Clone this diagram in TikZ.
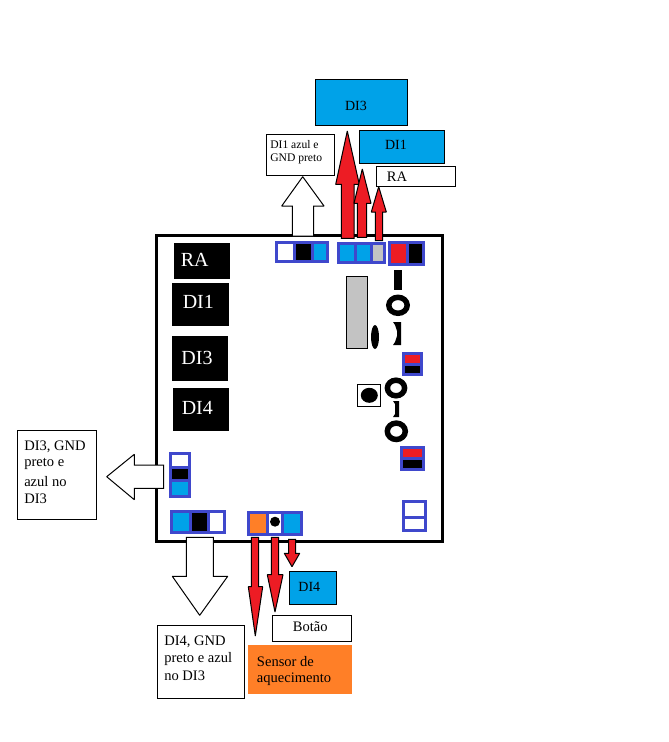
\documentclass[tikz,border=0pt]{standalone}
\usepackage{fontspec}
\setmainfont{Liberation Serif}
\definecolor{frameblue}{RGB}{63,72,204}
\definecolor{cyanfill}{RGB}{0,162,232}
\definecolor{redfill}{RGB}{237,28,36}
\definecolor{orangefill}{RGB}{255,127,39}
\definecolor{grayfill}{RGB}{195,195,195}
\tikzset{
  px/.style={x=0.75pt,y=-0.75pt},
  lbl/.style={inner sep=0pt,font=\fontsize{10.9pt}{12.8pt}\selectfont,text=black},
  lblleft/.style={lbl,anchor=west},
  small/.style={inner sep=0pt,anchor=west,font=\fontsize{8.7pt}{10pt}\selectfont},
  whitelbl/.style={inner sep=0pt,text=white,font=\fontsize{15pt}{18pt}\selectfont},
  outlined/.style={draw=black,line width=0.75pt},
  whitearrow/.style={draw=black,fill=white,line width=0.75pt,line join=miter,miter limit=1.5},
  redarrow/.style={draw=black,fill=redfill,line width=0.75pt,line join=miter,miter limit=1.5},
  ring/.style={draw=black,line width=4.1pt,fill=white},
}
% name, x1, y1, x2, y2, style
\newcommand{\bx}[6]{\node[#6,inner sep=0pt,outer sep=0pt,minimum width={(#4-#2)*0.75pt},minimum height={(#5-#3)*0.75pt}] (#1) at ({(#2+#4)/2},{(#3+#5)/2}) {};}
\newcommand{\cell}[5]{\fill[#5] (#1,#2) rectangle (#3,#4);}
\begin{document}
\begin{tikzpicture}[px]
\useasboundingbox (0,0) rectangle (668,742);
\fill[white] (0,0) rectangle (668,742);

% board
\bx{board}{156.3}{235.3}{442.5}{541.3}{draw=black,line width=2.25pt,fill=white}

% labels on the board
\bx{ra}{174}{243}{230}{279}{fill=black}
\bx{dia}{172}{283}{229}{326}{fill=black}
\bx{dib}{172}{336}{228}{381}{fill=black}
\bx{dic}{173}{388}{229}{431}{fill=black}
\node[whitelbl] (rat) at (194.7,260.3) {RA};
\node[whitelbl] (diat) at (198.3,302) {DI1};
\node[whitelbl] (dibt) at (197,358) {DI3};
\node[whitelbl] (dict) at (197.3,408) {DI4};

% white block arrows
\draw[whitearrow] (292.3,236) -- (292.3,206) -- (281.7,206) -- (302.7,176.7) -- (324,206) -- (313.7,206) -- (313.7,236) -- cycle;
\draw[whitearrow] (163.7,465) -- (134.3,465) -- (134.3,454.3) -- (106.7,476.7) -- (134.3,499.7) -- (134.3,488.3) -- (163.7,488.3) -- cycle;
\draw[whitearrow] (186.3,537.3) -- (186.3,576.3) -- (172.3,576.3) -- (199.7,615.3) -- (227.7,576.3) -- (213.3,576.3) -- (213.3,537.3) -- cycle;

% red arrows up
\draw[redarrow] (341.3,238.3) -- (341.3,184.3) -- (335.7,184.3) -- (347.3,131) -- (359.3,184.3) -- (354,184.3) -- (354,238.3) -- cycle;
\draw[redarrow] (357.3,237.3) -- (357.3,203.3) -- (354,203.3) -- (362.3,169) -- (371,203.3) -- (366.7,203.3) -- (366.7,237.3) -- cycle;
\draw[redarrow] (375.3,240.7) -- (375.3,212) -- (371.3,212) -- (378.7,186.7) -- (386.3,212) -- (382.7,212) -- (382.7,240.7) -- cycle;

% red arrows down
\draw[redarrow] (251.3,537.3) -- (251.3,586.7) -- (248.3,586.7) -- (255.3,636) -- (262.7,586.7) -- (258.7,586.7) -- (258.7,537.3) -- cycle;
\draw[redarrow] (271.3,537.3) -- (271.3,574.7) -- (267.3,574.7) -- (275,612) -- (283,574.7) -- (278.7,574.7) -- (278.7,537.3) -- cycle;
\draw[redarrow] (288.7,539.3) -- (288.7,553.3) -- (284.3,553.3) -- (292,566.7) -- (299.7,553.3) -- (295.7,553.3) -- (295.7,539.3) -- cycle;

% top connectors
\bx{conA}{275}{241}{329}{263}{fill=frameblue}
\cell{278}{244}{293}{260}{white}
\cell{296}{244}{311}{260}{black}
\cell{314}{244}{326}{260}{cyanfill}
\bx{conB}{337}{242}{386}{264}{fill=frameblue}
\cell{340}{245}{354}{261}{cyanfill}
\cell{357}{245}{370}{261}{cyanfill}
\cell{373}{245}{383}{261}{grayfill}
\bx{conC}{388}{241}{425}{266}{fill=frameblue}
\cell{391}{244}{406}{263}{redfill}
\cell{409}{244}{422}{263}{black}

% components
\cell{394}{270}{402}{290}{black}
\draw[ring] (398,305.3) ellipse [x radius=9.2,y radius=8];
\bx{gray}{346.3}{276.3}{367.7}{348.7}{draw=black,line width=0.75pt,fill=grayfill}
\fill[black] (375,337) ellipse [x radius=4,y radius=12];
\fill[black] (393,322) -- (401,322) -- (401,345) -- (393,345) -- (395,342) -- (397,336) -- (397,331) -- (395,325) -- cycle;
\bx{conD}{402}{352}{423}{376}{fill=frameblue}
\cell{405}{355}{420}{363}{redfill}
\cell{405}{366}{420}{373}{black}
\bx{button}{357.3}{384}{380.7}{406.7}{draw=black,line width=0.75pt,fill=white}
\fill[black] (369.3,395.3) ellipse [x radius=8.5,y radius=7.5];
\draw[ring] (396,388) ellipse [x radius=8.6,y radius=7.8];
\fill[black] (393,401) -- (399,401) -- (399,417) -- (393,417) -- (395,414) -- (395,404) -- cycle;
\draw[ring] (396.3,431.3) ellipse [x radius=9,y radius=8.2];
\bx{conE}{400}{446}{425}{471}{fill=frameblue}
\cell{403}{449}{422}{457}{redfill}
\cell{403}{460}{422}{468}{black}
\bx{conF}{402}{500}{427}{532}{fill=frameblue}
\cell{405}{503}{424}{516}{white}
\cell{405}{519}{424}{529}{white}

% left and bottom connectors
\bx{conG}{169}{452}{191}{498}{fill=frameblue}
\cell{172}{455}{188}{466}{white}
\cell{172}{469}{188}{479}{black}
\cell{172}{482}{188}{495}{cyanfill}
\bx{conH}{170}{510}{226}{534}{fill=frameblue}
\cell{173}{513}{189}{531}{cyanfill}
\cell{192}{513}{207}{531}{black}
\cell{210}{513}{223}{531}{white}
\bx{conI}{247}{511}{303}{536}{fill=frameblue}
\cell{250}{514}{266}{533}{orangefill}
\cell{269}{514}{281}{533}{white}
\cell{284}{514}{300}{533}{cyanfill}
\fill[black] (275,521.7) circle [radius=5];

% outer label boxes
\bx{tDIc}{315.3}{79.3}{407.7}{125.3}{outlined,fill=cyanfill}
\node[inner sep=0pt,font=\fontsize{10.5pt}{12pt}\selectfont] (tDIct) at (356,106) {DI3};
\bx{tDIa}{359.3}{130.3}{444.7}{163.3}{outlined,fill=cyanfill}
\node[inner sep=0pt,font=\fontsize{10.5pt}{12pt}\selectfont] (tDIat) at (396,145) {DI1};
\bx{tRA}{376.3}{166.3}{455.7}{186.7}{outlined,fill=white}
\node[lbl] (tRAt) at (397,177) {RA};
\bx{tAzul}{266.3}{134.3}{334.7}{175.7}{outlined,fill=white}
\node[small] (tAzula) at (270,144.5) {DI1 azul e};
\node[small] (tAzulb) at (270,159) {GND preto};

\bx{lBox}{17.3}{430.3}{96.7}{519.3}{outlined,fill=white}
\node[lblleft] (lBa) at (24,447.3) {DI3, GND};
\node[lblleft] (lBb) at (24,464.3) {preto e};
\node[lblleft] (lBc) at (24,481.3) {azul no};
\node[lblleft] (lBd) at (24,498.3) {DI3};

\bx{bBox}{157.3}{625.3}{244.7}{698.3}{outlined,fill=white}
\node[lblleft] (bBa) at (164,641.7) {DI4, GND};
\node[lblleft] (bBb) at (164,659.3) {preto e azul};
\node[lblleft] (bBc) at (164,676) {no DI3};

\bx{bDI}{289.3}{571.3}{336.7}{604.7}{outlined,fill=cyanfill}
\node[inner sep=0pt,font=\fontsize{10.5pt}{12pt}\selectfont] (bDIt) at (309.3,587) {DI4};
\bx{bBot}{272.3}{615.3}{351.7}{641.7}{outlined,fill=white}
\node[lbl] (bBott) at (310.3,627) {Botão};
\bx{bSen}{248.3}{645.3}{351.7}{693.7}{fill=orangefill}
\node[lblleft] (bSena) at (256.7,662) {Sensor de};
\node[lblleft] (bSenb) at (256.7,679.3) {aquecimento};
\end{tikzpicture}
\end{document}
